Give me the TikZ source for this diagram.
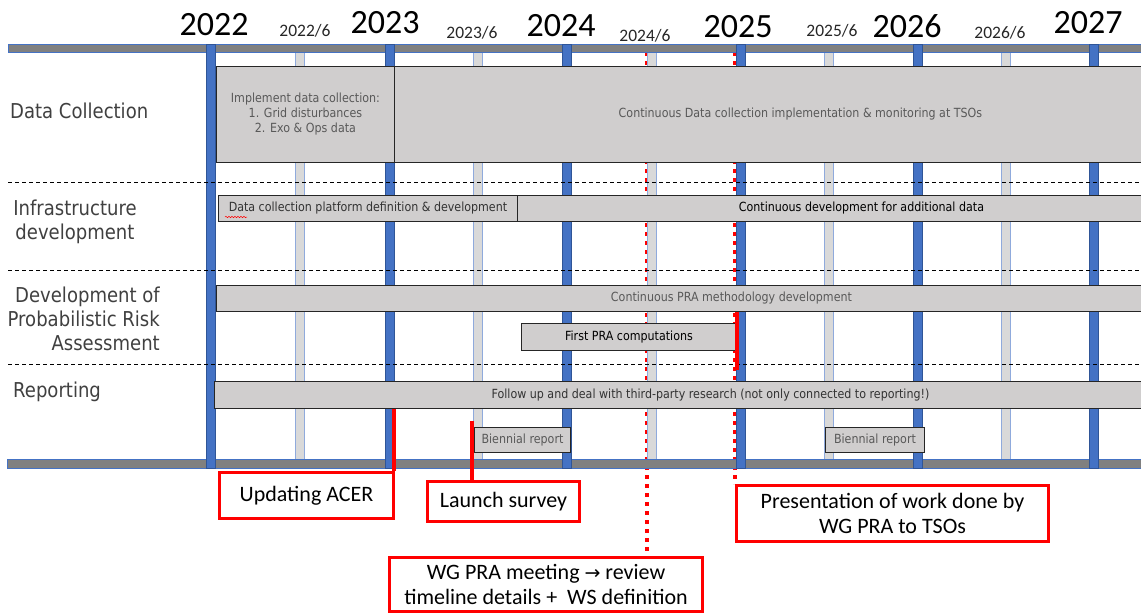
\documentclass[tikz,border=0pt]{standalone}
\usepackage{fontspec}
\setmainfont{Carlito}
\newfontfamily\tah[FakeStretch=0.88]{DejaVu Sans}
\newfontfamily\arrowfont{DejaVu Sans}
\usetikzlibrary{decorations.pathmorphing}
\definecolor{bargray}{RGB}{128,128,128}
\definecolor{yblue}{RGB}{68,114,196}
\definecolor{yblueedge}{RGB}{47,85,151}
\definecolor{halffill}{RGB}{217,217,217}
\definecolor{halfedge}{RGB}{143,170,220}
\definecolor{boxgray}{RGB}{208,206,206}
\definecolor{txtgray}{RGB}{89,89,89}
\definecolor{lblgray}{RGB}{64,64,64}
\pgfdeclarelayer{bg}
\pgfsetlayers{bg,main}
\begin{document}
\begin{tikzpicture}[x=1pt,y=-1pt,
  box/.style={draw=black!85, fill=boxgray, line width=0.9pt, inner sep=0pt, anchor=north west,
    font=\tah\fontsize{12.6}{15}\selectfont, text=txtgray, align=center},
  callout/.style={draw=red, line width=3pt, fill=white, inner sep=0pt, anchor=north west,
    font=\fontsize{22}{25}\selectfont, align=center},
  yearlbl/.style={anchor=base, font=\fontsize{34}{36}\selectfont},
  halflbl/.style={anchor=base, font=\fontsize{17.5}{19}\selectfont, text=black!85},
  rowlbl/.style={font=\tah\fontsize{20.5}{24}\selectfont, text=lblgray, inner sep=0pt},
  redsolid/.style={red, line width=4pt},
  reddot/.style={red, line width=3.5pt, dash pattern=on 4pt off 5pt},
  sep/.style={black, line width=0.8pt, dash pattern=on 4pt off 3pt}
]
\useasboundingbox (0,0) rectangle (1141,614);
\clip (0,0) rectangle (1141,614);

% half-year light lines
\foreach \x in {300,478,652,829,1006}
  \filldraw[fill=halffill, draw=halfedge, line width=1pt] (\x-4.5,52) rectangle (\x+4.5,459);

% top and bottom bars
\filldraw[fill=bargray, draw=yblue, line width=0.8pt] (8,44) rectangle (1145,52);
\filldraw[fill=bargray, draw=yblue, line width=0.8pt] (7,459) rectangle (1145,468);

% year lines
\foreach \x in {211,390,567,741,918,1094}
  \filldraw[fill=yblue, draw=yblueedge, line width=0.6pt] (\x-4.5,44) rectangle (\x+4.5,468);

% dashed row separators
\foreach \y in {182,270,364}
  \draw[sep] (8,\y) -- (1141,\y);

% year labels
\node[yearlbl] (y22) at (214,35) {2022};
\node[yearlbl] (y23) at (385,33) {2023};
\node[yearlbl] (y24) at (561,36) {2024};
\node[yearlbl] (y25) at (738,37) {2025};
\node[yearlbl] (y26) at (907,37) {2026};
\node[yearlbl] (y27) at (1088,33) {2027};
\node[halflbl] (h22) at (305,36) {2022/6};
\node[halflbl] (h23) at (472,38) {2023/6};
\node[halflbl] (h24) at (645,41) {2024/6};
\node[halflbl] (h25) at (832,36) {2025/6};
\node[halflbl] (h26) at (1000,38) {2026/6};

% row labels
\node[rowlbl, anchor=west] (r1) at (10,111) {Data Collection};
\node[rowlbl, align=center] (r2) at (75,222) {Infrastructure\\development};
\node[rowlbl, align=right, anchor=east] (r3) at (160,319) {Development of\\Probabilistic Risk\\Assessment};
\node[rowlbl, anchor=west] (r4) at (13,392) {Reporting};

% boxes
\node[box, minimum width=178pt, minimum height=96pt] (impl) at (216,66)
  {Implement data collection:\\1. Grid disturbances\\2. Exo \& Ops data};
\node[box, minimum width=812pt, minimum height=96pt] (contdc) at (394,66)
  {Continuous Data collection implementation \& monitoring at TSOs};
\node[box, minimum width=299pt, minimum height=26pt, text=black!80] (plat) at (218,195)
  {Data collection platform definition \& development};
\node[box, minimum width=688pt, minimum height=26pt, text=black] (contdev) at (517,195)
  {Continuous development for additional data};
\node[box, minimum width=1030pt, minimum height=26pt] (pra) at (216,285)
  {Continuous PRA methodology development};
\node[box, minimum width=215pt, minimum height=27pt, text=black] (first) at (521,323)
  {First PRA computations};
\node[box, minimum width=992pt, minimum height=27pt, text=black!80] (follow) at (214,381)
  {Follow up and deal with third-party research (not only connected to reporting!)};
\node[box, minimum width=96pt, minimum height=25pt] (bien1) at (474,427) {Biennial report};
\node[box, minimum width=99pt, minimum height=25pt] (bien2) at (825,427) {Biennial report};

% spell-check squiggle
\draw[red, line width=0.5pt, decorate, decoration={snake, amplitude=0.7pt, segment length=3pt}]
  (225,217) -- (247,217);

% callouts
\node[callout, minimum width=174pt, minimum height=46pt] (acer) at (218,471) {Updating ACER};
\node[callout, minimum width=152pt, minimum height=40pt] (survey) at (426,480) {Launch survey};
\node[callout, minimum width=313pt, minimum height=54pt] (wg) at (388,556)
  {WG PRA meeting {\arrowfont\fontsize{19}{22}\selectfont →} review\\timeline details + \ WS definition};
\node[callout, minimum width=312pt, minimum height=56pt] (pres) at (735,484)
  {Presentation of work done by\\WG PRA to TSOs};

% connectors
\coordinate (ls) at (472,421);
\coordinate (d1) at (647,52);
\coordinate (d2) at (735,52);
\coordinate (m1) at (737,312);
\coordinate (m2) at (737,370);
\draw[redsolid] ([xshift=-1pt]acer.north east |- follow.south) -- ([xshift=-1pt]acer.north east);
\draw[redsolid] (ls) -- (ls |- survey.north);
\draw[redsolid] (m1) -- (m2);
\begin{pgfonlayer}{bg}
\draw[reddot] (d1) -- (d1 |- wg.north);
\draw[reddot] (d2) -- (d2 |- pres.north);
\end{pgfonlayer}
\end{tikzpicture}
\end{document}
